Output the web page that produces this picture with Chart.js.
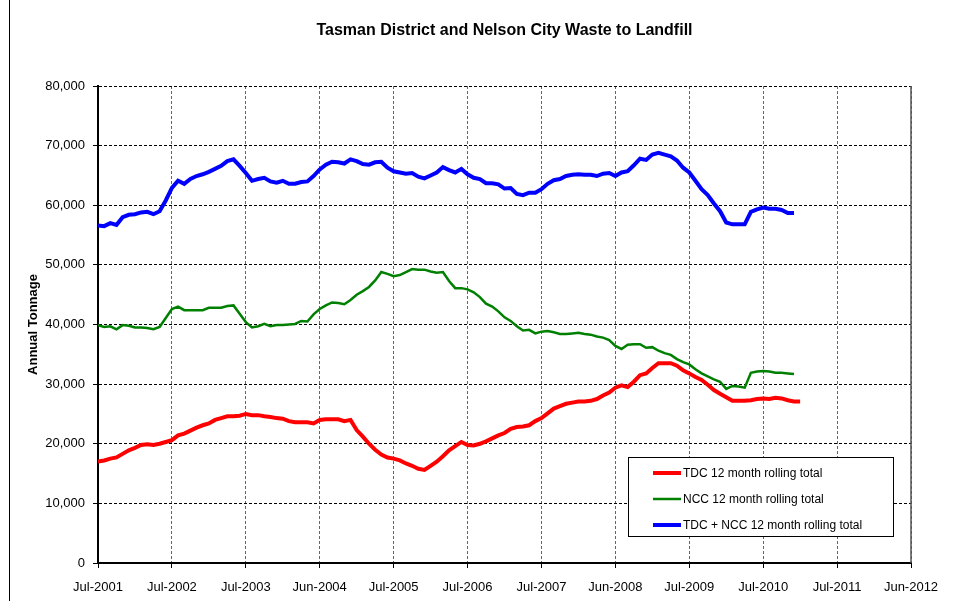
<!DOCTYPE html>
<html>
<head>
<meta charset="utf-8">
<script src="https://cdn.jsdelivr.net/npm/chart.js@4.4.0/dist/chart.umd.min.js"></script>
<style>
  html, body { margin: 0; padding: 0; background: #fff; }
  #wrap { position: relative; width: 976px; height: 601px; overflow: hidden; }
  #frame { position: absolute; left: 9px; top: -2px; width: 1px; height: 610px; background: #000; }
  canvas { position: absolute; left: 0; top: 0; }
</style>
</head>
<body>
<div id="wrap">
  <canvas id="c" width="976" height="601"></canvas>
  <div id="frame"></div>
</div>
<script>
// x tick labels (every 12 months starting Jul-2001)
const xTickLabels = ['Jul-2001','Jul-2002','Jul-2003','Jun-2004','Jul-2005','Jul-2006','Jul-2007','Jun-2008','Jul-2009','Jul-2010','Jul-2011','Jun-2012'];

// monthly values starting Jul-2001
const tdc = [
  17000,17200,17500,17700,18300,18900,19300,19800,19900,19800,
  20000,20300,20600,21400,21700,22200,22700,23100,23400,24000,
  24300,24600,24600,24700,25000,24800,24800,24600,24500,24300,
  24200,23800,23600,23600,23600,23400,24000,24100,24100,24100,
  23800,24000,22300,21200,20000,19000,18200,17700,17500,17200,
  16700,16300,15800,15600,16300,17000,17900,18900,19600,20300,
  19800,19700,20000,20400,20900,21400,21800,22500,22800,22900,
  23100,23800,24300,25100,25900,26300,26700,26900,27100,27100,
  27200,27500,28100,28600,29400,29800,29500,30400,31500,31800,
  32700,33500,33500,33500,33100,32300,31800,31200,30700,29900,
  29000,28400,27800,27200,27200,27200,27300,27500,27600,27500,
  27700,27600,27300,27100,27100
];
const ncc = [
  39900,39600,39700,39200,39900,39800,39500,39500,39400,39200,
  39600,41100,42600,43000,42400,42400,42400,42400,42800,42800,
  42800,43100,43200,41800,40400,39500,39700,40100,39700,39900,
  39900,40000,40100,40600,40500,41700,42600,43200,43700,43600,
  43400,44100,45000,45600,46300,47400,48800,48500,48100,48300,
  48800,49300,49200,49200,48900,48700,48800,47300,46100,46100,
  45900,45400,44600,43500,43000,42200,41200,40600,39700,39000,
  39100,38500,38800,38900,38700,38400,38400,38500,38600,38400,
  38300,38000,37800,37400,36400,35900,36600,36700,36700,36100,
  36200,35600,35200,34900,34200,33700,33300,32500,31800,31300,
  30800,30400,29200,29700,29600,29400,31900,32100,32200,32100,
  31900,31900,31800,31700
];
const total = [
  56600,56500,57000,56700,58000,58400,58500,58800,58900,58500,
  59000,60800,62900,64100,63600,64400,64900,65200,65600,66100,
  66600,67400,67700,66600,65400,64100,64400,64600,64000,63800,
  64100,63600,63600,63900,64000,64900,66000,66800,67300,67200,
  67000,67700,67400,66900,66800,67200,67300,66300,65700,65500,
  65300,65400,64800,64500,65000,65500,66400,65900,65500,66100,
  65200,64600,64400,63700,63700,63500,62800,62900,61900,61700,
  62100,62100,62700,63600,64200,64400,64900,65100,65200,65100,
  65100,64900,65300,65400,64900,65500,65700,66700,67800,67600,
  68500,68800,68500,68200,67500,66300,65500,64100,62700,61700,
  60300,59000,57100,56800,56800,56800,58900,59300,59600,59400,
  59400,59200,58700,58700
];

const seriesNames = ['TDC 12 month rolling total','NCC 12 month rolling total','TDC + NCC 12 month rolling total'];
const seriesColors = ['#ff0000','#008000','#0000ff'];
const seriesWidths = [4, 2.5, 4];

const toPts = arr => arr.map((v, i) => ({x: i, y: v}));

const frameLegend = {
  id: 'frameLegend',
  afterDraw(chart) {
    const {ctx, chartArea: a} = chart;
    ctx.save();
    // right frame edge
    ctx.strokeStyle = '#555';
    ctx.lineWidth = 1.5;
    ctx.beginPath();
    ctx.moveTo(a.right, a.top);
    ctx.lineTo(a.right, a.bottom);
    ctx.stroke();
    // legend box
    const bx = a.left + 530, by = a.top + 371, bw = 265, bh = 79;
    ctx.fillStyle = '#fff';
    ctx.fillRect(bx, by, bw, bh);
    ctx.strokeStyle = '#000';
    ctx.lineWidth = 1;
    ctx.strokeRect(bx + 0.5, by + 0.5, bw, bh);
    ctx.font = '12px Arial, "Liberation Sans", sans-serif';
    ctx.textBaseline = 'middle';
    ctx.fillStyle = '#000';
    chart.data.datasets.forEach((ds, i) => {
      const yy = by + 16 + i * 26;
      ctx.strokeStyle = ds.borderColor;
      ctx.lineWidth = ds.borderWidth;
      ctx.beginPath();
      ctx.moveTo(bx + 25, yy);
      ctx.lineTo(bx + 53, yy);
      ctx.stroke();
      ctx.fillText(ds.label, bx + 55, yy + 0.5);
    });
    ctx.restore();
  }
};

new Chart(document.getElementById('c'), {
  type: 'line',
  data: {
    datasets: [tdc, ncc, total].map((arr, i) => ({
      label: seriesNames[i],
      data: toPts(arr),
      borderColor: seriesColors[i],
      backgroundColor: seriesColors[i],
      borderWidth: seriesWidths[i],
      pointRadius: 0,
      tension: 0,
      fill: false
    }))
  },
  options: {
    responsive: false,
    animation: false,
    devicePixelRatio: 1,
    layout: { padding: { top: 0, right: 65, bottom: 0, left: 0 } },
    plugins: {
      legend: { display: false },
      tooltip: { enabled: false },
      title: {
        display: true,
        fullSize: false,
        text: 'Tasman District and Nelson City Waste to Landfill',
        color: '#000',
        font: { family: 'Arial, "Liberation Sans", sans-serif', size: 16, weight: 'bold', lineHeight: 1.2 },
        padding: { top: 21, bottom: 45.8 }
      }
    },
    scales: {
      x: {
        type: 'linear',
        min: 0,
        max: 132,
        afterFit: s => { s.height = 38; },
        ticks: {
          stepSize: 12,
          autoSkip: false,
          maxRotation: 0,
          padding: 12,
          color: '#000',
          font: { family: 'Arial, "Liberation Sans", sans-serif', size: 13 },
          callback: v => xTickLabels[Math.round(v / 12)]
        },
        grid: { color: '#666', lineWidth: 1, tickLength: 5, tickColor: '#000', tickBorderDash: [] },
        border: { display: true, color: '#000', width: 2, dash: [3, 2] }
      },
      y: {
        min: 0,
        max: 80000,
        afterFit: s => { s.width = 98; },
        ticks: {
          stepSize: 10000,
          padding: 8,
          color: '#000',
          font: { family: 'Arial, "Liberation Sans", sans-serif', size: 13 },
          callback: v => v.toLocaleString('en-US')
        },
        title: {
          display: true,
          text: 'Annual Tonnage',
          color: '#000',
          font: { family: 'Arial, "Liberation Sans", sans-serif', size: 13, weight: 'bold' },
          padding: { top: 26, bottom: 0 }
        },
        grid: { color: '#000', lineWidth: 1, tickLength: 5, tickColor: '#000', tickBorderDash: [] },
        border: { display: true, color: '#000', width: 2, dash: [3, 2] }
      }
    }
  },
  plugins: [frameLegend]
});
</script>
</body>
</html>
